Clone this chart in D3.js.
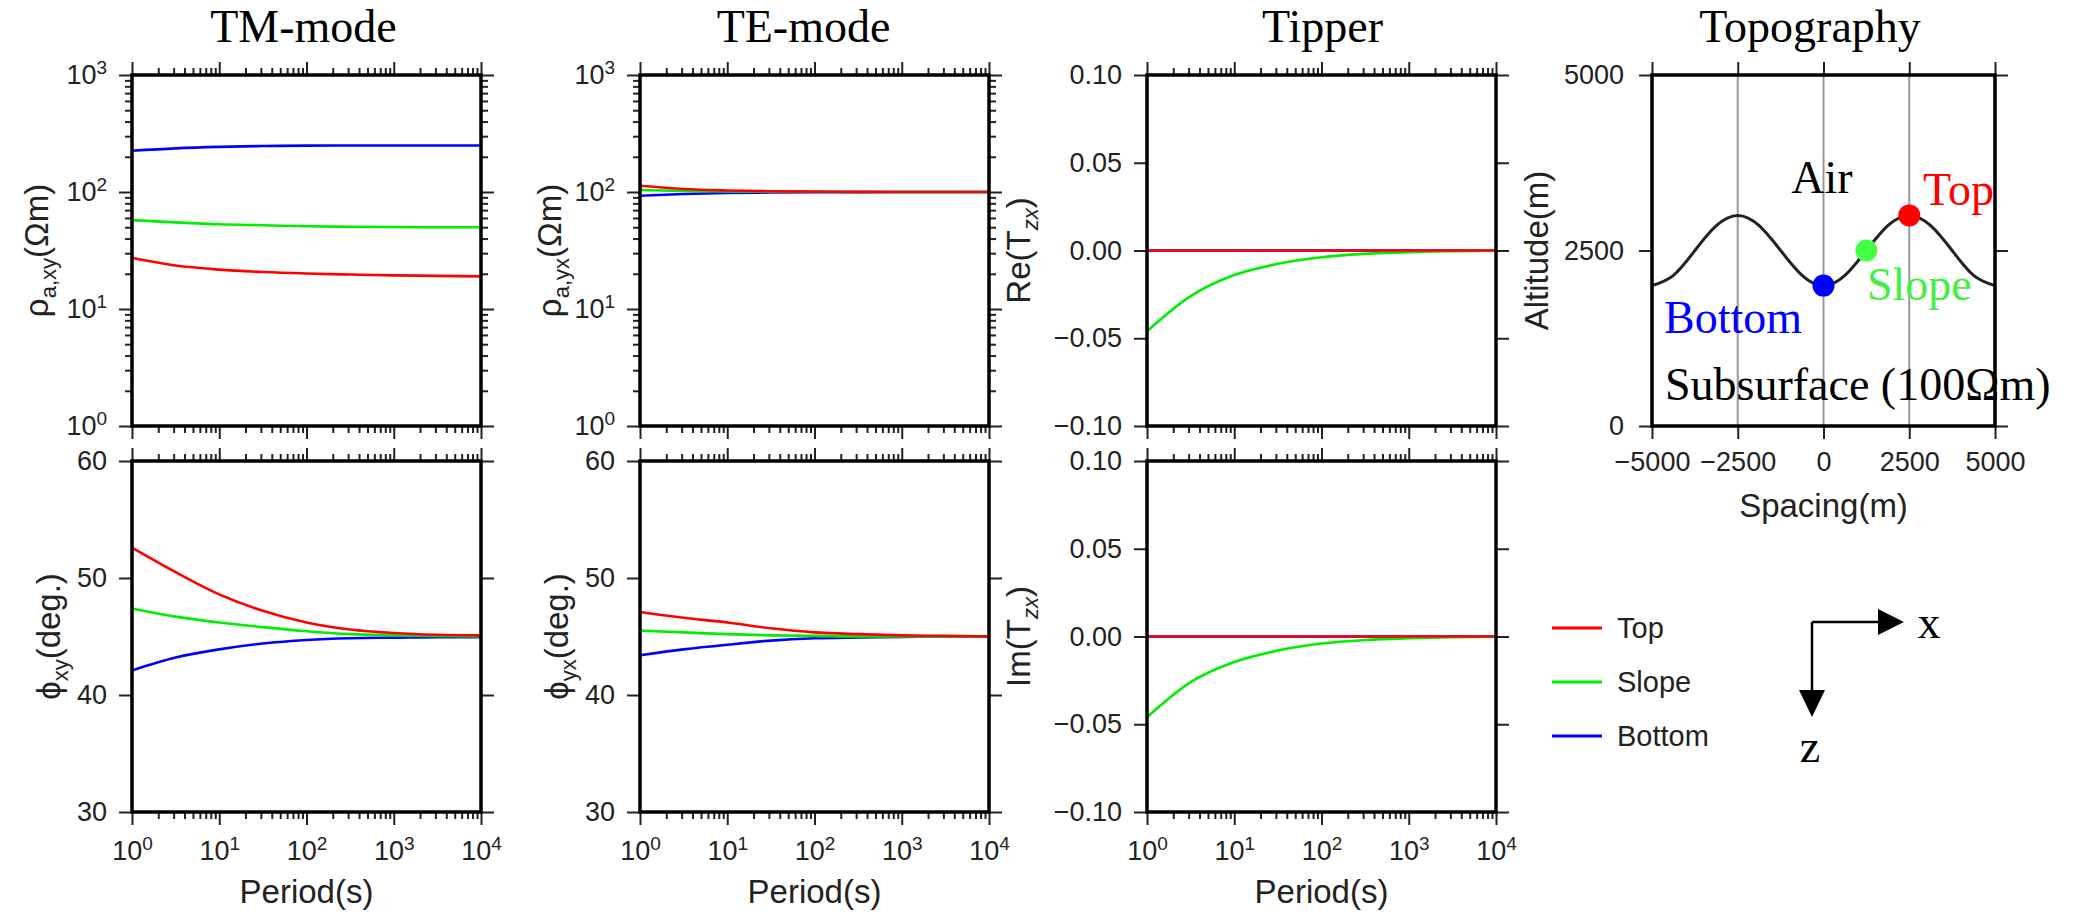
<!DOCTYPE html>
<html>
<head>
<meta charset="utf-8">
<script src="https://cdn.jsdelivr.net/npm/d3@7"></script>
<style>
  body { margin: 0; background: #fff; }
  svg { display: block; }
</style>
</head>
<body>
<div class="canva"></div>
<script>
// periods (s) that the curves are read at
const periods = [1, 3.16, 10, 31.6, 100, 316, 1000, 3162, 10000];

const stations = ['Top', 'Slope', 'Bottom'];
const stationColors = ['#ff0000', '#00ee00', '#0000ff'];

// TM-mode apparent resistivity (ohm m) and phase (deg)
const tmRhoTop    = [27.4, 23.5, 21.7, 20.7, 20.1, 19.7, 19.4, 19.2, 19.0];
const tmRhoSlope  = [57.5, 55, 53, 52, 51, 50.5, 50.2, 50, 50];
const tmRhoBottom = [225, 236, 243, 247, 249, 250, 250, 250, 250];
const tmPhiTop    = [52.6, 50.5, 48.6, 47.2, 46.2, 45.6, 45.3, 45.15, 45.1];
const tmPhiSlope  = [47.4, 46.7, 46.2, 45.8, 45.45, 45.2, 45.1, 45.05, 45.0];
const tmPhiBottom = [42.1, 43.2, 43.9, 44.4, 44.7, 44.85, 44.9, 44.95, 44.95];

// TE-mode
const teRhoTop    = [113, 106, 103, 101.5, 100.8, 100.3, 100.1, 100, 100];
const teRhoSlope  = [104, 102, 101, 100.5, 100.2, 100, 100, 100, 100];
const teRhoBottom = [93, 96, 98, 99, 99.5, 99.8, 100, 100, 100];
const tePhiTop    = [47.1, 46.6, 46.2, 45.7, 45.35, 45.2, 45.1, 45.05, 45.0];
const tePhiSlope  = [45.5, 45.35, 45.2, 45.1, 45.05, 45.0, 45.0, 45.0, 45.0];
const tePhiBottom = [43.4, 43.9, 44.3, 44.65, 44.85, 44.92, 44.97, 45.0, 45.0];

// Tipper
const reTzxTop    = [0, 0, 0, 0, 0, 0, 0, 0, 0];
const reTzxSlope  = [-0.046, -0.026, -0.014, -0.0076, -0.0038, -0.0019, -0.0009, -0.0004, -0.0001];
const reTzxBottom = [0, 0, 0, 0, 0, 0, 0, 0, 0];
const imTzxTop    = [0, 0, 0, 0, 0, 0, 0, 0, 0];
const imTzxSlope  = [-0.046, -0.026, -0.0145, -0.008, -0.004, -0.002, -0.001, -0.0004, -0.0001];
const imTzxBottom = [0, 0, 0, 0, 0, 0, 0, 0, 0];

// Topography profile
const spacing  = [-5000, -4375, -3750, -3125, -2500, -1875, -1250, -625, 0, 625, 1250, 1875, 2500, 3125, 3750, 4375, 5000];
const altitude = [2000, 2146, 2500, 2854, 3000, 2854, 2500, 2146, 2000, 2146, 2500, 2854, 3000, 2854, 2500, 2146, 2000];
const stationX   = [2500, 1250, 0];
const stationAlt = [3000, 2500, 2000];

// tick labels
const decadeTicks = [1, 10, 100, 1000, 10000];
const rhoTicks = [1, 10, 100, 1000];
const phiTicks = [30, 40, 50, 60];
const tipTicks = [-0.1, -0.05, 0, 0.05, 0.1];
const spacingTicks = [-5000, -2500, 0, 2500, 5000];
const altitudeTicks = [0, 2500, 5000];

const sans = "'Liberation Sans', Arial, Helvetica, sans-serif";
const serif = "'Liberation Serif', 'Times New Roman', serif";
const ink = '#222';

const svg = d3.select('.canva').append('svg')
    .attr('width', 2073)
    .attr('height', 916)

svg.append('rect').attr('width', 2073).attr('height', 916).attr('fill', '#fff')

const colLeft = [132, 640, 1147];
const rowTop = [75, 461];
const plotW = 349, plotH = 351;

const tickLen = 13, minorLen = 7;

function minorLogTicks(lo, hi) {
    const out = [];
    for (let p = lo; p < hi; p *= 10)
        for (let k = 2; k < 10; k++) out.push(p * k);
    return out;
}

// one side of the frame; labels only where fmt is given
function addAxis(g, axisFn, scale, values, size, transform, fmt, pad) {
    const axis = axisFn(scale)
        .tickValues(values)
        .tickSizeInner(size)
        .tickSizeOuter(0)
        .tickPadding(pad || 12)
        .tickFormat(fmt && fmt !== 'pow' ? fmt : '');
    const ag = g.append('g').attr('transform', transform).call(axis);
    ag.select('.domain').remove();
    ag.selectAll('.tick line').attr('stroke', ink).attr('stroke-width', 2);
    ag.selectAll('.tick text')
        .attr('font-family', sans)
        .attr('font-size', 27)
        .attr('fill', ink);
    if (fmt === 'pow') {
        ag.selectAll('.tick text').text(null).each(function(d) {
            const t = d3.select(this);
            t.append('tspan').text('10');
            t.append('tspan').attr('font-size', 19).attr('dy', -10).text(Math.round(Math.log10(d)));
        });
    }
    if (!fmt) ag.selectAll('.tick text').remove();
    return ag;
}

// rotated label made of [text, 'sub'?] parts
function addLabel(g, x, y, parts, rotate) {
    const t = g.append('text')
        .attr('transform', `translate(${x},${y})` + (rotate ? ' rotate(-90)' : ''))
        .attr('text-anchor', 'middle')
        .attr('font-family', sans)
        .attr('font-size', 33)
        .attr('fill', ink);
    let shifted = false;
    parts.forEach(p => {
        const s = t.append('tspan').text(p[0]);
        if (p[1] === 'sub') {
            s.attr('font-size', 22).attr('dy', 8);
            if (p[2]) s.attr('font-style', 'italic');
            shifted = true;
        } else if (shifted) {
            s.attr('dy', -8);
            shifted = false;
        }
    });
    return t;
}

const panels = [
    { col: 0, row: 0, log: true, domain: [1, 1000], ticks: rhoTicks, fmt: 'pow',
      data: [tmRhoTop, tmRhoSlope, tmRhoBottom],
      label: [['ρ'], ['a,xy', 'sub'], ['(Ωm)']], labelOff: 84 },
    { col: 0, row: 1, log: false, domain: [30, 60], ticks: phiTicks, fmt: d3.format('d'),
      data: [tmPhiTop, tmPhiSlope, tmPhiBottom],
      label: [['ϕ'], ['xy', 'sub'], ['(deg.)']], labelOff: 72 },
    { col: 1, row: 0, log: true, domain: [1, 1000], ticks: rhoTicks, fmt: 'pow',
      data: [teRhoTop, teRhoSlope, teRhoBottom],
      label: [['ρ'], ['a,yx', 'sub'], ['(Ωm)']], labelOff: 79 },
    { col: 1, row: 1, log: false, domain: [30, 60], ticks: phiTicks, fmt: d3.format('d'),
      data: [tePhiTop, tePhiSlope, tePhiBottom],
      label: [['ϕ'], ['yx', 'sub'], ['(deg.)']], labelOff: 72 },
    { col: 2, row: 0, log: false, domain: [-0.1, 0.1], ticks: tipTicks, fmt: d3.format('.2f'),
      data: [reTzxTop, reTzxSlope, reTzxBottom],
      label: [['Re(T'], ['zx', 'sub', true], [')']], labelOff: 117 },
    { col: 2, row: 1, log: false, domain: [-0.1, 0.1], ticks: tipTicks, fmt: d3.format('.2f'),
      data: [imTzxTop, imTzxSlope, imTzxBottom],
      label: [['Im(T'], ['zx', 'sub', true], [')']], labelOff: 117 }
];

panels.forEach(p => {
    const g = svg.append('g')
        .attr('transform', `translate(${colLeft[p.col]}, ${rowTop[p.row]})`);

    const x = d3.scaleLog().domain([1, 10000]).range([0, plotW]);
    const y = (p.log ? d3.scaleLog() : d3.scaleLinear())
        .domain(p.domain)
        .range([plotH, 0]);

    // x frame ticks, top and bottom
    const xMinor = minorLogTicks(1, 10000);
    addAxis(g, d3.axisTop, x, decadeTicks, tickLen, 'translate(0,0)', null);
    addAxis(g, d3.axisTop, x, xMinor, minorLen, 'translate(0,0)', null);
    addAxis(g, d3.axisBottom, x, decadeTicks, tickLen, `translate(0,${plotH})`, p.row === 1 ? 'pow' : null, 16);
    addAxis(g, d3.axisBottom, x, xMinor, minorLen, `translate(0,${plotH})`, null);

    // y frame ticks, left and right
    addAxis(g, d3.axisLeft, y, p.ticks, tickLen, 'translate(0,0)', p.fmt);
    addAxis(g, d3.axisRight, y, p.ticks, tickLen, `translate(${plotW},0)`, null);
    if (p.log) {
        const yMinor = minorLogTicks(1, 1000);
        addAxis(g, d3.axisLeft, y, yMinor, minorLen, 'translate(0,0)', null);
        addAxis(g, d3.axisRight, y, yMinor, minorLen, `translate(${plotW},0)`, null);
    }

    const line = d3.line()
        .x((d, i) => x(periods[i]))
        .y(d => y(d))
        .curve(d3.curveMonotoneX);

    // bottom first so Top sits on top
    [2, 1, 0].forEach(i => {
        g.append('path')
            .attr('d', line(p.data[i]))
            .attr('fill', 'none')
            .attr('stroke', stationColors[i])
            .attr('stroke-width', 2.6);
    });

    g.append('rect')
        .attr('width', plotW)
        .attr('height', plotH)
        .attr('fill', 'none')
        .attr('stroke', '#000')
        .attr('stroke-width', 3.5);

    addLabel(g, -p.labelOff, plotH / 2, p.label, true);

    if (p.row === 1) {
        addLabel(g, plotW / 2, plotH + 91, [['Period(s)']], false);
    }
});

// column titles
const titles = ['TM-mode', 'TE-mode', 'Tipper'];
const titleDx = [-3, -11, 1];
titles.forEach((t, i) => {
    svg.append('text')
        .attr('x', colLeft[i] + plotW / 2 + titleDx[i])
        .attr('y', 42)
        .attr('text-anchor', 'middle')
        .attr('font-family', serif)
        .attr('font-size', 46)
        .attr('fill', '#000')
        .text(t);
});

// Topography panel
const topoW = 343, topoH = 351;
const topo = svg.append('g').attr('transform', 'translate(1652, 75)');

const tx = d3.scaleLinear().domain([-5000, 5000]).range([0, topoW]);
const ty = d3.scaleLinear().domain([0, 5000]).range([topoH, 0]);

// vertical grid
topo.selectAll('.grid')
    .data(spacingTicks.slice(1, -1))
    .enter().append('line')
    .attr('x1', d => tx(d)).attr('x2', d => tx(d))
    .attr('y1', 0).attr('y2', topoH)
    .attr('stroke', '#999')
    .attr('stroke-width', 2);

addAxis(topo, d3.axisTop, tx, spacingTicks, tickLen, 'translate(0,0)', null);
addAxis(topo, d3.axisBottom, tx, spacingTicks, tickLen, `translate(0,${topoH})`, d3.format('d'), 13);
addAxis(topo, d3.axisLeft, ty, altitudeTicks, tickLen, 'translate(0,0)', d3.format('d'), 15);
addAxis(topo, d3.axisRight, ty, altitudeTicks, tickLen, `translate(${topoW},0)`, null);

topo.append('path')
    .attr('d', d3.line()
        .x((d, i) => tx(spacing[i]))
        .y(d => ty(d))
        .curve(d3.curveNatural)(altitude))
    .attr('fill', 'none')
    .attr('stroke', '#222')
    .attr('stroke-width', 3);

topo.selectAll('.station')
    .data(stationX)
    .enter().append('circle')
    .attr('cx', d => tx(d))
    .attr('cy', (d, i) => ty(stationAlt[i]))
    .attr('r', 11)
    .attr('fill', (d, i) => ['#ff0000', '#44ff44', '#0000ff'][i]);

topo.append('rect')
    .attr('width', topoW)
    .attr('height', topoH)
    .attr('fill', 'none')
    .attr('stroke', '#000')
    .attr('stroke-width', 3.5);

// annotations inside the topography panel
const notes = [
    { text: 'Air', x: 170, y: 118, color: '#000', anchor: 'middle' },
    { text: 'Top', x: 271, y: 130, color: '#ff0000', anchor: 'start' },
    { text: 'Slope', x: 215, y: 225, color: '#44ee44', anchor: 'start' },
    { text: 'Bottom', x: 12, y: 258, color: '#0000ff', anchor: 'start' },
    { text: 'Subsurface (100Ωm)', x: 13, y: 325, color: '#000', anchor: 'start' }
];
topo.selectAll('.note')
    .data(notes)
    .enter().append('text')
    .attr('x', d => d.x)
    .attr('y', d => d.y)
    .attr('text-anchor', d => d.anchor)
    .attr('font-family', serif)
    .attr('font-size', 46)
    .attr('fill', d => d.color)
    .text(d => d.text);

svg.append('text')
    .attr('x', 1810).attr('y', 42)
    .attr('text-anchor', 'middle')
    .attr('font-family', serif)
    .attr('font-size', 46)
    .text('Topography');

addLabel(topo, -104, topoH / 2, [['Altitude(m)']], true);
addLabel(topo, topoW / 2, 442, [['Spacing(m)']], false);

// legend
const legend = svg.append('g').attr('transform', 'translate(1552, 628)');
stations.forEach((s, i) => {
    legend.append('line')
        .attr('x1', 0).attr('x2', 50)
        .attr('y1', i * 54).attr('y2', i * 54)
        .attr('stroke', stationColors[i])
        .attr('stroke-width', 3);
    legend.append('text')
        .attr('x', 65).attr('y', i * 54)
        .attr('dy', '0.36em')
        .attr('font-family', sans)
        .attr('font-size', 29)
        .attr('fill', ink)
        .text(s);
});

// x-z coordinate arrows
const arrows = svg.append('g').attr('transform', 'translate(1812, 622)');
arrows.append('path')
    .attr('d', 'M0,0 H68 M0,0 V70')
    .attr('stroke', '#000')
    .attr('stroke-width', 2.5)
    .attr('fill', 'none');
arrows.append('path').attr('d', 'M66,-13 L92,0 L66,13 Z').attr('fill', '#000');
arrows.append('path').attr('d', 'M-13,68 L0,95 L13,68 Z').attr('fill', '#000');
arrows.append('text')
    .attr('x', 117).attr('y', 16)
    .attr('text-anchor', 'middle')
    .attr('font-family', serif).attr('font-size', 46)
    .text('x');
arrows.append('text')
    .attr('x', -2).attr('y', 140)
    .attr('text-anchor', 'middle')
    .attr('font-family', serif).attr('font-size', 46)
    .text('z');
</script>
</body>
</html>
